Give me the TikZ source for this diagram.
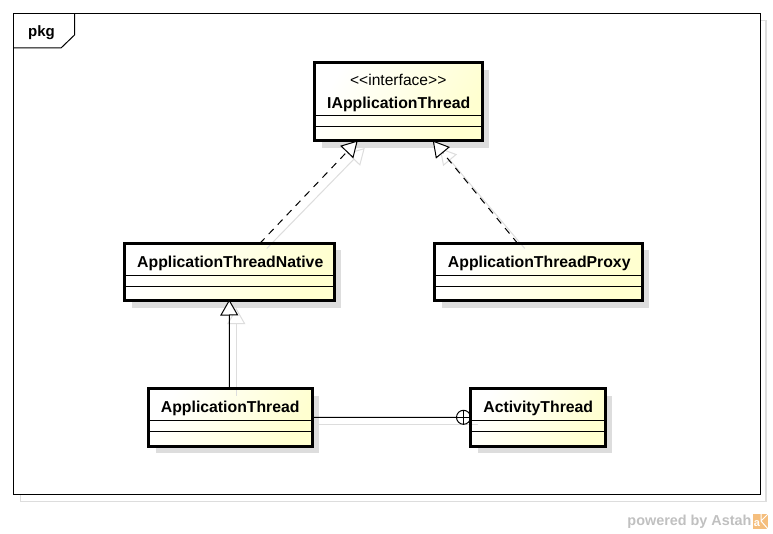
\documentclass[tikz,border=0pt]{standalone}
\usepackage{fontspec}
\setmainfont{Liberation Sans}
\usepackage{xcolor}
\usetikzlibrary{arrows.meta}
\definecolor{boxyellow}{RGB}{255,255,208}
\definecolor{shadowgray}{RGB}{221,221,221}
\definecolor{markgray}{RGB}{192,192,192}
\definecolor{markorange}{RGB}{245,190,125}
\tikzset{>={Triangle[open,fill=white,length=16pt,width=18pt]}}
\tikzstyle{classbox}=[anchor=north west, inner sep=0pt, outer sep=0pt, align=center, font=\fontsize{15.8}{23}\selectfont\bfseries, left color=white, right color=boxyellow, shading angle=60]
\tikzstyle{realize}=[->, dashed, dash pattern=on 7pt off 6pt, line width=1pt]
\tikzstyle{shadowline}=[shadowgray, line width=1pt]
\newcommand{\boxshadow}[4]{\fill[shadowgray] (#1+7,#2+7) rectangle +(#3,#4);}
\begin{document}
\begin{tikzpicture}[x=1pt, y=-1pt, line width=1pt]
\useasboundingbox (0,0) rectangle (773,534);
% package frame
\draw[shadowline, line width=1.5pt] (20.5,20.5) rectangle (766,501.5);
\draw[fill=white] (13.5,13.5) rectangle (760.5,494.5);
\node[font=\fontsize{15}{16}\selectfont\bfseries, inner sep=0pt] (pkg) at (41.5,33) {pkg};
\coordinate (tabtop) at (74.5,14);
\coordinate (tableft) at (13,48);
\draw (tabtop) -- (74.5,35) -- (61,48) -- (tableft);
% box shadows
\boxshadow{314.5}{63}{167.5}{78}
\boxshadow{124.5}{243.5}{209.5}{57.5}
\boxshadow{434.5}{243.5}{207.5}{57.5}
\boxshadow{148.5}{388.5}{163.5}{57.5}
\boxshadow{470.5}{388.5}{134.5}{57.5}
% classes
\node[classbox, text width=167.5pt, text height=23pt, text depth=55pt] (ia) at (314.5,63) {{\fontsize{15.6}{23}\selectfont\mdseries {<}{<}interface{>}{>}}\\\hspace*{1pt}IApplicationThread};
\node[classbox, text width=209.5pt, text height=24pt, text depth=33.5pt] (atn) at (124.5,243.5) {\hspace*{2pt}ApplicationThreadNative};
\node[classbox, text width=207.5pt, text height=24pt, text depth=33.5pt] (atp) at (434.5,243.5) {\hspace*{2pt}ApplicationThreadProxy};
\node[classbox, text width=163.5pt, text height=24pt, text depth=33.5pt] (at) at (148.5,388.5) {ApplicationThread};
\node[classbox, text width=134.5pt, text height=24pt, text depth=33.5pt] (act) at (470.5,388.5) {\hspace*{1pt}ActivityThread};
% connector shadows
\draw[shadowline, ->] ([xshift=37.5pt,yshift=-5pt]atn.north) -- ([xshift=-33.5pt,yshift=-7pt]ia.south);
\draw[shadowline, ->] ([xshift=-13.5pt,yshift=-5pt]atp.north) -- ([xshift=41.5pt,yshift=-7pt]ia.south);
\draw[shadowline, ->] ([xshift=6pt,yshift=-7pt]at.north) -- ([xshift=7pt,yshift=-7pt]atn.south);
\draw[shadowline] ([xshift=7pt,yshift=-7pt]at.east) -- ([xshift=7pt,yshift=-7pt]act.west);
% class outlines and compartments
\foreach \c in {ia,atn,atp,at,act} {
\draw[line width=3pt] (\c.north west) rectangle (\c.south east);
\draw ([yshift=25.5pt]\c.south west) -- ([yshift=25.5pt]\c.south east);
\draw ([yshift=14.5pt]\c.south west) -- ([yshift=14.5pt]\c.south east);
}
% connectors
\draw[realize] ([xshift=30.5pt]atn.north) -- ([xshift=-40.5pt,yshift=0.5pt]ia.south);
\draw[realize] ([xshift=-20.5pt]atp.north) -- ([xshift=34.5pt,yshift=0.5pt]ia.south);
\draw[->] ([xshift=-0.8pt]at.north) -- ([yshift=1.5pt]atn.south);
\node[circle, draw, inner sep=0pt, minimum size=14pt] (nest) at (463.5,417.3) {};
\draw (at.east) -- (nest.west);
\draw (nest.north) -- (nest.south) (nest.west) -- (nest.east);
% watermark
\node[font=\fontsize{14.4}{16}\selectfont\bfseries, text=markgray, inner sep=0pt, anchor=east] (mark) at (752,522) {powered by Astah};
\fill[markorange] (753,514) rectangle (768,529);
\node[font=\fontsize{11}{12}\selectfont\bfseries, text=white, inner sep=0pt] (logo) at (757,524) {a};
\draw[white] (761,514) -- (761,520) (768,514) -- (761,521) -- (768,529);
\end{tikzpicture}
\end{document}
